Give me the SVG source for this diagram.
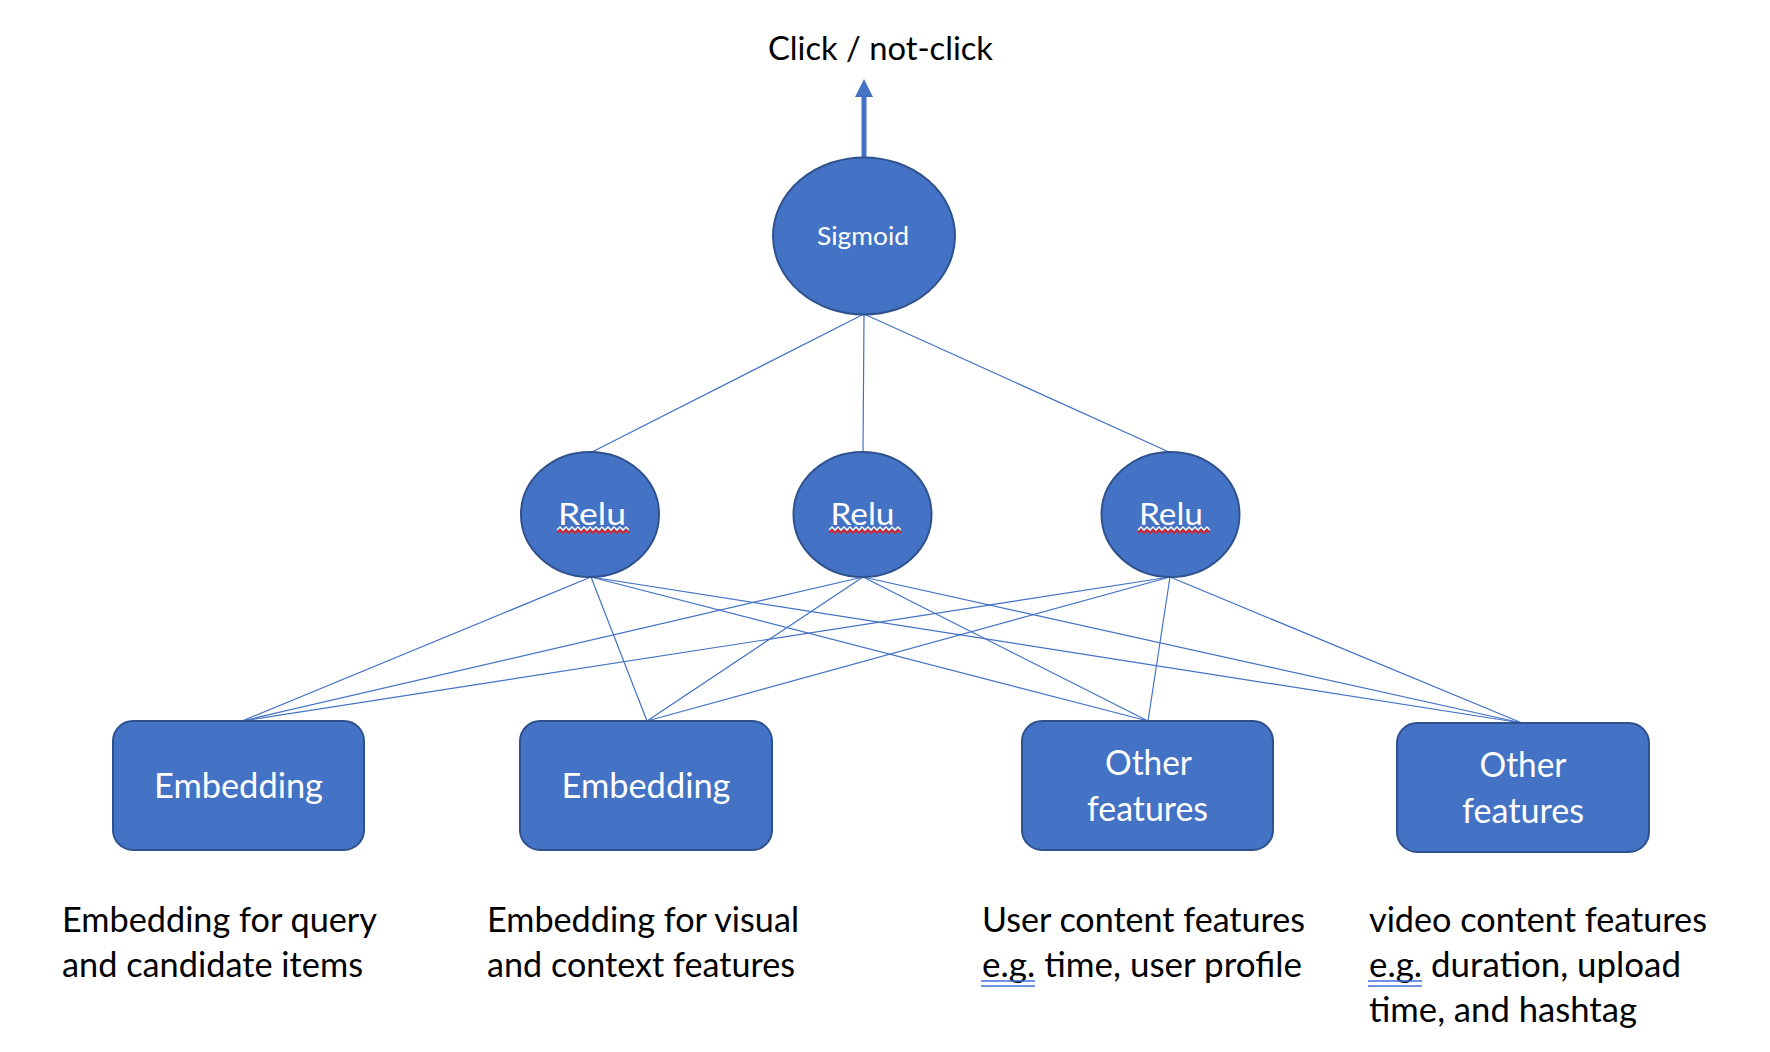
<svg xmlns="http://www.w3.org/2000/svg" width="1770" height="1052" viewBox="0 0 1770 1052">
  <defs>
    <style>
      .node { fill: #4472C4; stroke: #2F528F; stroke-width: 2; }
      .conn { stroke: #4472C4; stroke-width: 1.2; fill: none; }
      .lbl { font-family: Lato, "Open Sans", sans-serif; fill: #FFFFFF; text-anchor: middle; }
      .txt { font-family: Lato, "Open Sans", sans-serif; fill: #000000; font-size: 34px; }
      .squig-w { stroke: #FFFFFF; stroke-width: 1.3; fill: none; }
      .squig-r { stroke: #E02020; stroke-width: 1.6; fill: none; }
      .gram { stroke: #3F6FD9; stroke-width: 1.6; }
    </style>
    <marker id="ah" viewBox="0 0 18 18" markerUnits="userSpaceOnUse" markerWidth="18" markerHeight="18" refX="0" refY="9" orient="auto">
      <path d="M0,0 L18,9 L0,18 Z" fill="#4472C4"/>
    </marker>
  </defs>
  <rect width="1770" height="1052" fill="#FFFFFF"/>

  <g id="connectors">
    <line x1="864" y1="157" x2="864" y2="97" stroke="#4472C4" stroke-width="5" marker-end="url(#ah)"/>
    <line class="conn" x1="864" y1="314" x2="592" y2="452"/>
    <line class="conn" x1="864" y1="314" x2="863" y2="452"/>
    <line class="conn" x1="864" y1="314" x2="1169" y2="452"/>

    <line class="conn" x1="591" y1="577" x2="242" y2="721"/>
    <line class="conn" x1="591" y1="577" x2="647" y2="721"/>
    <line class="conn" x1="591" y1="577" x2="1148" y2="721"/>
    <line class="conn" x1="591" y1="577" x2="1522" y2="723"/>

    <line class="conn" x1="863" y1="577" x2="242" y2="721"/>
    <line class="conn" x1="863" y1="577" x2="647" y2="721"/>
    <line class="conn" x1="863" y1="577" x2="1148" y2="721"/>
    <line class="conn" x1="863" y1="577" x2="1522" y2="723"/>

    <line class="conn" x1="1170" y1="577" x2="242" y2="721"/>
    <line class="conn" x1="1170" y1="577" x2="647" y2="721"/>
    <line class="conn" x1="1170" y1="577" x2="1148" y2="721"/>
    <line class="conn" x1="1170" y1="577" x2="1522" y2="723"/>
  </g>

  <g id="title">
    <text x="880.5" y="60" font-family="Lato, 'Open Sans', sans-serif" font-size="32" text-anchor="middle" fill="#000000" textLength="225" lengthAdjust="spacingAndGlyphs">Click / not-click</text>
  </g>

  <g id="sigmoid">
    <ellipse class="node" cx="864" cy="236" rx="91" ry="78.5"/>
    <text class="lbl" x="863" y="245" font-size="25" textLength="92" lengthAdjust="spacingAndGlyphs">Sigmoid</text>
  </g>

  <g id="relu1">
    <ellipse class="node" cx="590" cy="514.5" rx="69" ry="62.5"/>
    <text class="lbl" x="592" y="525" font-size="31" textLength="68" lengthAdjust="spacingAndGlyphs">Relu</text>
    <path class="squig-w" d="M557,530 l3,-3 l3,3 l3,-3 l3,3 l3,-3 l3,3 l3,-3 l3,3 l3,-3 l3,3 l3,-3 l3,3 l3,-3 l3,3 l3,-3 l3,3 l3,-3 l3,3 l3,-3 l3,3 l3,-3 l3,3 l3,-3 l3,3"/>
    <path class="squig-r" d="M557,533 l3,-3 l3,3 l3,-3 l3,3 l3,-3 l3,3 l3,-3 l3,3 l3,-3 l3,3 l3,-3 l3,3 l3,-3 l3,3 l3,-3 l3,3 l3,-3 l3,3 l3,-3 l3,3 l3,-3 l3,3 l3,-3 l3,3"/>
  </g>

  <g id="relu2">
    <ellipse class="node" cx="862.5" cy="514.5" rx="69" ry="62.5"/>
    <text class="lbl" x="862.5" y="525" font-size="31" textLength="64" lengthAdjust="spacingAndGlyphs">Relu</text>
    <path class="squig-w" d="M829,530 l3,-3 l3,3 l3,-3 l3,3 l3,-3 l3,3 l3,-3 l3,3 l3,-3 l3,3 l3,-3 l3,3 l3,-3 l3,3 l3,-3 l3,3 l3,-3 l3,3 l3,-3 l3,3 l3,-3 l3,3 l3,-3 l3,3"/>
    <path class="squig-r" d="M829,533 l3,-3 l3,3 l3,-3 l3,3 l3,-3 l3,3 l3,-3 l3,3 l3,-3 l3,3 l3,-3 l3,3 l3,-3 l3,3 l3,-3 l3,3 l3,-3 l3,3 l3,-3 l3,3 l3,-3 l3,3 l3,-3 l3,3"/>
  </g>

  <g id="relu3">
    <ellipse class="node" cx="1170.5" cy="514.5" rx="69" ry="62.5"/>
    <text class="lbl" x="1171" y="525" font-size="31" textLength="64" lengthAdjust="spacingAndGlyphs">Relu</text>
    <path class="squig-w" d="M1138,530 l3,-3 l3,3 l3,-3 l3,3 l3,-3 l3,3 l3,-3 l3,3 l3,-3 l3,3 l3,-3 l3,3 l3,-3 l3,3 l3,-3 l3,3 l3,-3 l3,3 l3,-3 l3,3 l3,-3 l3,3 l3,-3 l3,3"/>
    <path class="squig-r" d="M1138,533 l3,-3 l3,3 l3,-3 l3,3 l3,-3 l3,3 l3,-3 l3,3 l3,-3 l3,3 l3,-3 l3,3 l3,-3 l3,3 l3,-3 l3,3 l3,-3 l3,3 l3,-3 l3,3 l3,-3 l3,3 l3,-3 l3,3"/>
  </g>

  <g id="embedding1">
    <rect class="node" x="113" y="721" width="251" height="129" rx="20" ry="20"/>
    <text class="lbl" x="238.5" y="798" font-size="35" textLength="169" lengthAdjust="spacingAndGlyphs">Embedding</text>
  </g>

  <g id="embedding2">
    <rect class="node" x="520" y="721" width="252" height="129" rx="20" ry="20"/>
    <text class="lbl" x="646" y="798" font-size="35" textLength="169" lengthAdjust="spacingAndGlyphs">Embedding</text>
  </g>

  <g id="other1">
    <rect class="node" x="1022" y="721" width="251" height="129" rx="20" ry="20"/>
    <text class="lbl" x="1148.5" y="775" font-size="35" textLength="87" lengthAdjust="spacingAndGlyphs">Other</text>
    <text class="lbl" x="1147.5" y="821" font-size="35" textLength="121" lengthAdjust="spacingAndGlyphs">features</text>
  </g>

  <g id="other2">
    <rect class="node" x="1397" y="723" width="252" height="129" rx="20" ry="20"/>
    <text class="lbl" x="1523" y="777" font-size="35" textLength="87" lengthAdjust="spacingAndGlyphs">Other</text>
    <text class="lbl" x="1523" y="823" font-size="35" textLength="122" lengthAdjust="spacingAndGlyphs">features</text>
  </g>

  <g id="desc1">
    <text class="txt" x="62" y="932" textLength="315" lengthAdjust="spacingAndGlyphs">Embedding for query</text>
    <text class="txt" x="62" y="977" textLength="301" lengthAdjust="spacingAndGlyphs">and candidate items</text>
  </g>

  <g id="desc2">
    <text class="txt" x="487" y="932" textLength="312" lengthAdjust="spacingAndGlyphs">Embedding for visual</text>
    <text class="txt" x="487" y="977" textLength="308" lengthAdjust="spacingAndGlyphs">and context features</text>
  </g>

  <g id="desc3">
    <text class="txt" x="982" y="932" textLength="323" lengthAdjust="spacingAndGlyphs">User content features</text>
    <text class="txt" x="982" y="977" textLength="320" lengthAdjust="spacingAndGlyphs">e.g. time, user profile</text>
    <line class="gram" x1="981" y1="981" x2="1035" y2="981"/>
    <line class="gram" x1="981" y1="986" x2="1035" y2="986"/>
  </g>

  <g id="desc4">
    <text class="txt" x="1369" y="932" textLength="338" lengthAdjust="spacingAndGlyphs">video content features</text>
    <text class="txt" x="1369" y="977" textLength="312" lengthAdjust="spacingAndGlyphs">e.g. duration, upload</text>
    <text class="txt" x="1369" y="1022" textLength="268" lengthAdjust="spacingAndGlyphs">time, and hashtag</text>
    <line class="gram" x1="1368" y1="981" x2="1422" y2="981"/>
    <line class="gram" x1="1368" y1="986" x2="1422" y2="986"/>
  </g>
</svg>
